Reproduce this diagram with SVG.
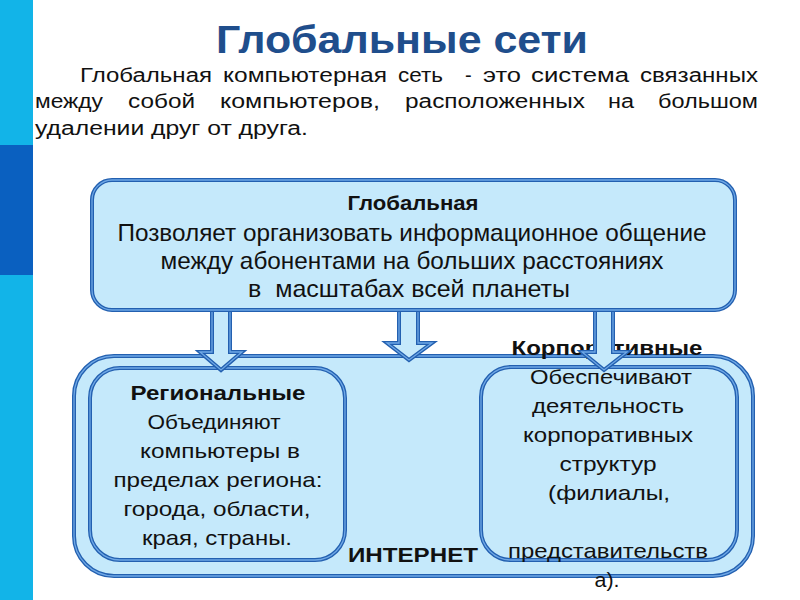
<svg xmlns="http://www.w3.org/2000/svg" width="800" height="600" viewBox="0 0 800 600">
<style>
.t{font-family:"Liberation Sans",Arial,sans-serif;fill:#111}
.p{font-size:20px}
.b{font-weight:bold}
.bx{font-size:21px}
.c{text-anchor:middle}
.o1{fill:#C5E9FB;stroke:#2360B0;stroke-width:4}
.o2{fill:none;stroke:#6FA8E6;stroke-width:1.3}
</style>
<rect x="0" y="0" width="800" height="600" fill="#fff"/>
<rect x="0" y="0" width="33" height="600" fill="#12B4E8"/>
<rect x="0" y="145" width="33" height="130" fill="#0A60C0"/>

<text class="t b" x="216" y="53" font-size="39" style="fill:#1F4E8C" textLength="372" lengthAdjust="spacingAndGlyphs">Глобальные сети</text>

<g class="t p">
<text x="80" y="82" textLength="132" lengthAdjust="spacingAndGlyphs">Глобальная</text>
<text x="223" y="82" textLength="164" lengthAdjust="spacingAndGlyphs">компьютерная</text>
<text x="398" y="82" textLength="45" lengthAdjust="spacingAndGlyphs">сеть</text>
<text x="465" y="82">-</text>
<text x="483" y="82" textLength="38" lengthAdjust="spacingAndGlyphs">это</text>
<text x="531" y="82" textLength="98" lengthAdjust="spacingAndGlyphs">система</text>
<text x="640" y="82" textLength="118" lengthAdjust="spacingAndGlyphs">связанных</text>
<text x="35" y="108" textLength="68" lengthAdjust="spacingAndGlyphs">между</text>
<text x="128" y="108" textLength="67" lengthAdjust="spacingAndGlyphs">собой</text>
<text x="220" y="108" textLength="160" lengthAdjust="spacingAndGlyphs">компьютеров,</text>
<text x="405" y="108" textLength="180" lengthAdjust="spacingAndGlyphs">расположенных</text>
<text x="608" y="108" textLength="26" lengthAdjust="spacingAndGlyphs">на</text>
<text x="658" y="108" textLength="100" lengthAdjust="spacingAndGlyphs">большом</text>
<text x="35" y="135" textLength="273" lengthAdjust="spacingAndGlyphs">удалении друг от друга.</text>
</g>

<g id="internet">
<rect class="o1" x="74" y="356" width="679" height="220" rx="40"/>
<rect class="o2" x="74" y="356" width="679" height="220" rx="40"/>
<text class="t b bx" x="348" y="562" textLength="130" lengthAdjust="spacingAndGlyphs">ИНТЕРНЕТ</text>
</g>

<g id="regional">
<rect class="o1" x="90" y="368" width="255" height="192" rx="30"/>
<rect class="o2" x="90" y="368" width="255" height="192" rx="30"/>
<g class="t bx c">
<text class="b" x="218" y="400" textLength="175" lengthAdjust="spacingAndGlyphs">Региональные</text>
<text x="214" y="429" textLength="133" lengthAdjust="spacingAndGlyphs">Объединяют</text>
<text x="220" y="458" textLength="160" lengthAdjust="spacingAndGlyphs">компьютеры в</text>
<text x="218" y="487" textLength="209" lengthAdjust="spacingAndGlyphs">пределах региона:</text>
<text x="217" y="516" textLength="187" lengthAdjust="spacingAndGlyphs">города, области,</text>
<text x="217" y="545" textLength="150" lengthAdjust="spacingAndGlyphs">края, страны.</text>
</g>
</g>

<g id="corporate">
<rect class="o1" x="481" y="367" width="256" height="193" rx="30"/>
<rect class="o2" x="481" y="367" width="256" height="193" rx="30"/>
<g class="t bx c">
<text class="b" x="607" y="355" textLength="191" lengthAdjust="spacingAndGlyphs">Корпоративные</text>
<text x="611" y="384" textLength="162" lengthAdjust="spacingAndGlyphs">Обеспечивают</text>
<text x="608" y="413" textLength="152" lengthAdjust="spacingAndGlyphs">деятельность</text>
<text x="608" y="442" textLength="170" lengthAdjust="spacingAndGlyphs">корпоративных</text>
<text x="608" y="471" textLength="97" lengthAdjust="spacingAndGlyphs">структур</text>
<text x="609" y="500" textLength="122" lengthAdjust="spacingAndGlyphs">(филиалы,</text>
<text x="608" y="558" textLength="200" lengthAdjust="spacingAndGlyphs">представительств</text>
<text x="607" y="587" textLength="25" lengthAdjust="spacingAndGlyphs">а).</text>
</g>
</g>

<g id="connectors">
<path id="a1" class="o1" d="M212,306 H230 V352 H242 L221,370 L200,352 H212 Z"/>
<path class="o2" d="M212,306 H230 V352 H242 L221,370 L200,352 H212 Z"/>
<path id="a2" class="o1" d="M399,306 H418 V343 H432 L409,360 L387,343 H399 Z"/>
<path class="o2" d="M399,306 H418 V343 H432 L409,360 L387,343 H399 Z"/>
<path id="a3" class="o1" d="M595,306 H613 V352 H627 L604,370 L582,352 H595 Z"/>
<path class="o2" d="M595,306 H613 V352 H627 L604,370 L582,352 H595 Z"/>
</g>

<g id="global">
<rect class="o1" x="92" y="180" width="643" height="130" rx="20"/>
<rect class="o2" x="92" y="180" width="643" height="130" rx="20"/>
<g class="t c">
<text class="b" x="413" y="210" font-size="20" textLength="131" lengthAdjust="spacingAndGlyphs">Глобальная</text>
<text x="412" y="241" font-size="24" textLength="589" lengthAdjust="spacingAndGlyphs">Позволяет организовать информационное общение</text>
<text x="412" y="269" font-size="24" textLength="503" lengthAdjust="spacingAndGlyphs">между абонентами на больших расстояниях</text>
<text x="409" y="297" font-size="24" textLength="322" lengthAdjust="spacingAndGlyphs" xml:space="preserve">в  масштабах всей планеты</text>
</g>
</g>
</svg>
